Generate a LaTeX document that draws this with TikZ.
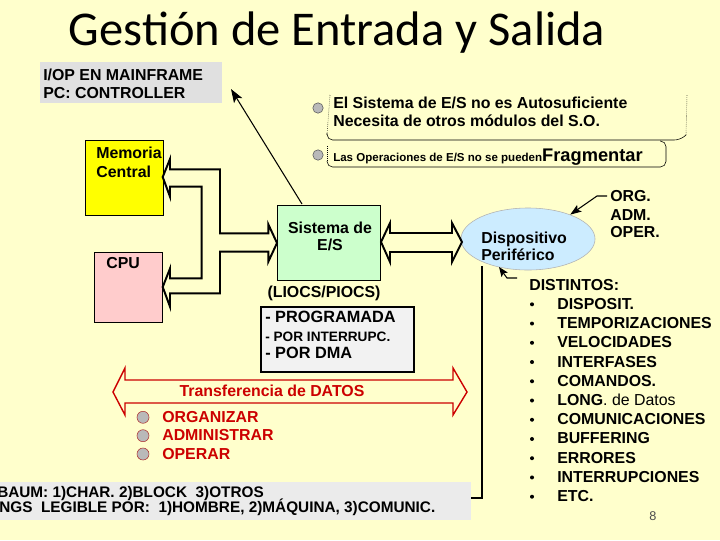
\documentclass[tikz,border=0pt]{standalone}
\usepackage{fontspec}
\setmainfont{Liberation Sans}
\newfontfamily\titlefont{Carlito}
\usetikzlibrary{arrows.meta,shapes.geometric}
\definecolor{fondo}{HTML}{FFFFCC}
\definecolor{gris}{HTML}{E0E0E0}
\definecolor{grisclaro}{HTML}{EBEBEB}
\definecolor{amarillo}{HTML}{FFFF00}
\definecolor{rosa}{HTML}{FFCCCC}
\definecolor{verde}{HTML}{CCFFCC}
\definecolor{celeste}{HTML}{CCECFF}
\definecolor{rojo}{HTML}{CC0000}
\tikzset{
  txt/.style={inner sep=0pt, anchor=base west, font=\bfseries\fontsize{11.3}{13}\selectfont},
  caja/.style={draw, thin, anchor=north west, inner sep=0pt},
  bloque/.style={line width=1.4pt, line join=miter},
  fina/.style={line width=0.75pt},
  punto/.style={circle, fill=gray!55, draw=gray!70!black, inner sep=0pt, minimum size=2.6mm},
}
\begin{document}
\begin{tikzpicture}[x=0.025cm, y=-0.025cm]
    \useasboundingbox (0,0) rectangle (720,540);
    \clip (0,0) rectangle (720,540);
    \fill[fondo] (0,0) rectangle (720,540);
    % titulo
    \node[inner sep=0pt, anchor=base, font=\titlefont\fontsize{34.5}{40}\selectfont] (titulo) at (337,45) {Gestión de Entrada y Salida};
    % cajas
    \node[caja, draw=none, fill=gris, minimum width=4.53cm, minimum height=1.03cm] (iop) at (40,62) {};
    \node[txt] (iop1) at (43,80) {I/OP EN MAINFRAME};
    \node[txt] (iop2) at (43,98.5) {PC: CONTROLLER};
    \node[caja, fill=amarillo, minimum width=1.95cm, minimum height=1.88cm] (mem) at (85,140) {};
    \node[txt] (mem1) at (96,158.5) {Memoria};
    \node[txt] (mem2) at (96,177) {Central};
    \node[caja, fill=rosa, minimum width=1.7cm, minimum height=1.75cm] (cpu) at (94,252) {};
    \node[txt] (cpu1) at (106,268.5) {CPU};
    \node[caja, fill=verde, minimum width=2.58cm, minimum height=1.88cm] (sis) at (277,205) {};
    \node[txt, anchor=base] (sis1) at (330,233) {Sistema de};
    \node[txt, anchor=base] (sis2) at (330,250) {E/S};
    \node[txt, anchor=base] (liocs) at (324,297.5) {(LIOCS/PIOCS)};
    \node[caja, fill=gray!10, line width=1.4pt, minimum width=3.83cm, minimum height=1.62cm] (modos) at (260,306) {};
    \node[txt, font=\bfseries\fontsize{11.6}{13}\selectfont] (m1) at (265,322.7) {- PROGRAMADA};
    \node[txt, font=\bfseries\fontsize{9.7}{11}\selectfont] (m2) at (265,341) {- POR INTERRUPC.};
    \node[txt, font=\bfseries\fontsize{11.6}{13}\selectfont] (m3) at (265,358.5) {- POR DMA};
    \node[ellipse, draw=gray!60, fill=celeste, minimum width=3.35cm, minimum height=1.55cm] (disp) at (528,239) {};
    \node[txt] (disp1) at (481,243.5) {Dispositivo};
    \node[txt] (disp2) at (481,260.5) {Periférico};
    % flechas de bloque
    \draw[bloque] (170,169.3) -- (220,169.3) -- (220,233.3) -- (268.3,233.3) -- (268.3,224.3)
        -- (277,243) -- (268.3,261.7) -- (268.3,251.7) -- (220,251.7) -- (220,293.3)
        -- (170,293.3) -- (170,306.7) -- (162.7,287) -- (170,268.5) -- (170,278.3)
        -- (201.7,278.3) -- (201.7,186.7) -- (170,186.7) -- (170,196.7) -- (162.7,177)
        -- (170,159) -- cycle;
    \draw[bloque] (381,242) -- (390,223) -- (390,233) -- (452,233) -- (452,223) -- (462,242)
        -- (452,262) -- (452,252) -- (390,252) -- (390,262) -- cycle;
    \draw[rojo, line width=1pt, line join=miter] (113,392) -- (125,368) -- (125,380) -- (453,380)
        -- (453,368) -- (467,392) -- (453,415) -- (453,403) -- (125,403) -- (125,415) -- cycle;
    \node[txt, anchor=base, text=rojo] (trans) at (272,396.7) {Transferencia de DATOS};
    \foreach \nom/\y in {ORGANIZAR/422.3, ADMINISTRAR/440.7, OPERAR/459}{
        \node[punto, draw=rojo!60!gray, minimum size=3mm] (b\nom) at (143,\y-5) {};
        \node[txt, text=rojo] (t\nom) at (162,\y) {\nom};
    }
    % flechas finas
    \coordinate (sisTop) at (302,204);
    \coordinate (iopTip) at (231,89);
    \draw[fina, -{Stealth[length=3.4mm,width=2.4mm,inset=0.8mm]}] (sisTop) -- (iopTip);
    \coordinate (orgA) at (607,196);
    \draw[fina, -{Stealth[length=2.8mm,width=2mm,inset=0.6mm]}] (orgA) -- (597,196) -- (disp.30);
    \coordinate (distTip) at (499,267);
    \coordinate (distA) at (517,278);
    \draw[fina, {Stealth[length=2.4mm,width=1.9mm,inset=0.5mm]}-] (distTip) -- (507,278) -- (distA);
    \node[txt] (org) at (610,201.7) {ORG.};
    \node[txt] (adm) at (610,220) {ADM.};
    \node[txt] (oper) at (610,237.3) {OPER.};
    % lista de distintos
    \node[txt] (dist) at (529,290.7) {DISTINTOS:};
    \foreach \item [count=\i from 0] in {DISPOSIT., TEMPORIZACIONES, VELOCIDADES, INTERFASES, COMANDOS., {LONG\mdseries. de Datos}, COMUNICACIONES, BUFFERING, ERRORES, INTERRUPCIONES, ETC.}{
        \fill (532,309.3+19.24*\i-5) circle (2);
        \node[txt] (d\i) at (557,309.3+19.24*\i) {\item};
    }
    % texto superior
    \node[punto] (p1) at (318,108) {};
    \node[punto] (p2) at (318,155) {};
    \node[txt] (s1) at (333,108) {El Sistema de E/S no es Autosuficiente};
    \node[txt] (s2) at (333,126) {Necesita de otros módulos del S.O.};
    \node[txt] (s3) at (333,161.7) {\fontsize{8.2}{10}\selectfont Las Operaciones de E/S no se pueden\fontsize{13}{15}\selectfont Fragmentar};
    \draw[thin, densely dotted] (330,95) -- (327,135);
    \draw[thin, rounded corners=4] (327,133) -- (327,140) -- (680,140) -- (686,135);
    \draw[thin, densely dotted] (686,135) -- (687,95);
    \draw[thin, densely dotted] (327,146) -- (327,161);
    \draw[thin, rounded corners=4] (327,161) -- (327,167) -- (666,167) -- (666,141) -- (660,141);
    % conector inferior
    \coordinate (vTop) at (482,266);
    \coordinate (vBot) at (482,498);
    \coordinate (vEnd) at (467,498);
    \draw[fina] (vTop) -- (vBot) -- (vEnd);
    \draw[line width=1.2pt] (482,302) -- (482,418);
    \fill[grisclaro] (0,482) rectangle (471,520);
    \node[txt, font=\bfseries\fontsize{10.9}{12}\selectfont] (baum) at (-3,497.7) {BAUM: 1)CHAR. 2)BLOCK\ \ 3)OTROS};
    \node[txt, font=\bfseries\fontsize{10.9}{12}\selectfont] (legible) at (-1,512) {NGS\ \ LEGIBLE POR:\ \ 1)HOMBRE, 2)MÁQUINA, 3)COMUNIC.};
    \node[inner sep=0pt, anchor=base, font=\fontsize{9}{10}\selectfont, text=black!70] (pag) at (653,520) {8};
\end{tikzpicture}
\end{document}
